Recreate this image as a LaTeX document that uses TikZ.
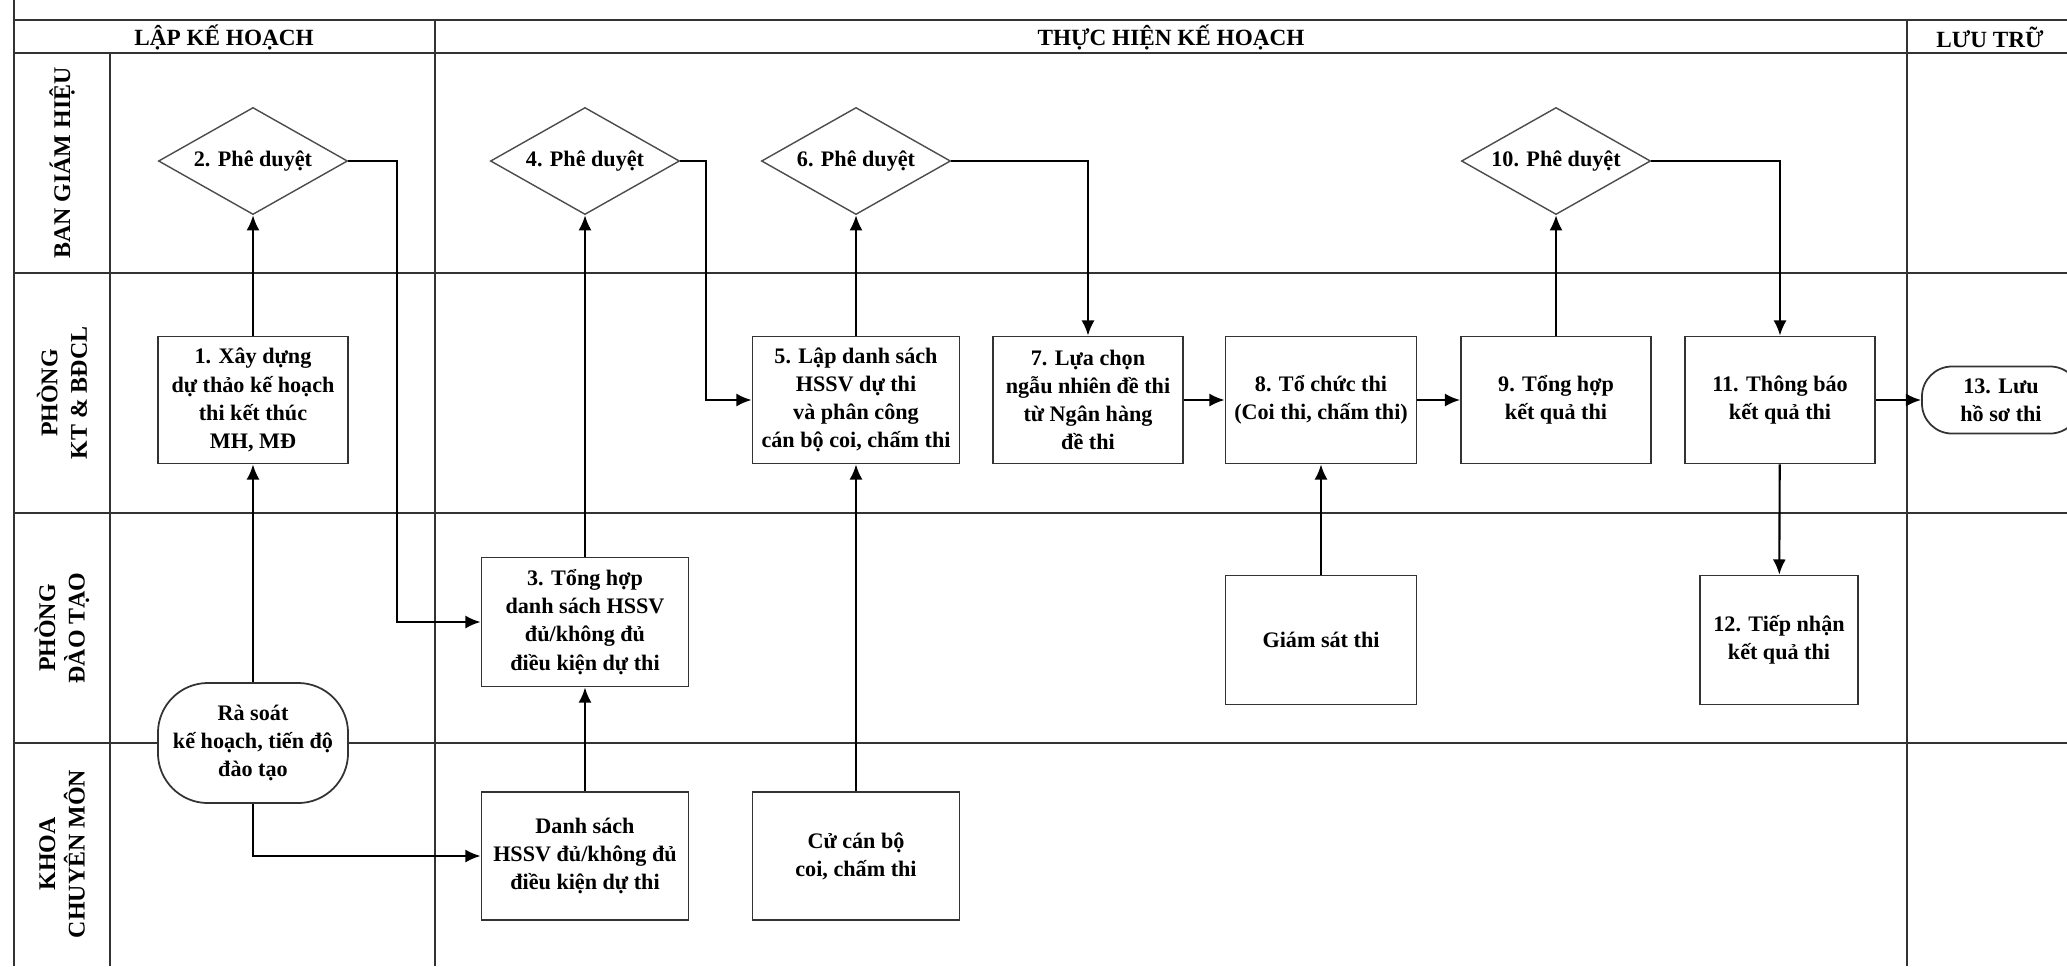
\documentclass[tikz,border=0pt]{standalone}
\usepackage{fontspec}
\setmainfont{Liberation Serif}
\usepackage{tikz}
\usetikzlibrary{shapes.geometric}
\usetikzlibrary{arrows.meta}
\newcommand{\boxfont}{\bfseries\fontsize{6.3}{8}\selectfont}
\tikzstyle{lane}=[draw=black!80,line width=0.75pt]
\tikzstyle{head}=[font=\bfseries\fontsize{6.6}{8}\selectfont,inner sep=0pt]
\tikzstyle{lanelabel}=[rotate=90,align=center,inner sep=0pt,font=\bfseries\fontsize{6.8}{8.4}\selectfont]
\tikzstyle{process}=[draw=black!80,fill=white,line width=0.5pt,align=center,inner sep=1pt,minimum width=1.90cm,minimum height=1.27cm,font=\boxfont]
\tikzstyle{decision}=[diamond,draw=black!70,fill=white,line width=0.4pt,inner sep=0pt,shape aspect=1.77,minimum width=1.89cm,minimum height=1.07cm,font=\boxfont]
\tikzstyle{terminal}=[draw=black!80,fill=white,line width=0.5pt,align=center,inner sep=1pt,font=\boxfont]
\tikzstyle{flow}=[draw=black,line width=0.6pt,-{Latex[length=4.3pt,width=3.7pt]}]

\begin{document}
\begin{tikzpicture}[x=0.01cm,y=-0.01cm]
  \useasboundingbox (0,0) rectangle (2067,966);
  % swimlane frame
  \draw[lane] (14,0) -- (14,966);
  \foreach \y in {20,53,273,513,743}
    \draw[lane] (14,\y) -- (2067,\y);
  \draw[lane] (110,53) -- (110,966);
  \foreach \x in {435,1907}
    \draw[lane] (\x,20) -- (\x,966);

  \node[head] (h1) at (224,37) {LẬP KẾ HOẠCH};
  \node[head] (h2) at (1171,37) {THỰC HIỆN KẾ HOẠCH};
  \node[head] (h3) at (1990,37) {LƯU TRỮ};

  \foreach \y/\t [count=\i] in {163/{BAN GIÁM HIỆU},393/{PHÒNG\\KT \& BĐCL},628/{PHÒNG\\ĐÀO TẠO},854/{KHOA\\CHUYÊN MÔN}}
    \node[lanelabel] (lane\i) at (62,\y) {\t};

  % steps
  \node[process] (b1) at (253,400) {1. Xây dựng\\dự thảo kế hoạch\\thi kết thúc\\MH, MĐ};
  \node[decision] (d2) at (253,161) {2. Phê duyệt};
  \node[terminal,rounded corners=0.5cm,minimum width=1.90cm,minimum height=1.20cm] (rs) at (253,743) {Rà soát\\kế hoạch, tiến độ\\đào tạo};
  \node[process,minimum width=2.07cm,minimum height=1.29cm] (b3) at (585,622) {3. Tổng hợp\\danh sách HSSV\\đủ/không đủ\\điều kiện dự thi};
  \node[process,minimum width=2.07cm,minimum height=1.28cm] (ds) at (585,856) {Danh sách\\HSSV đủ/không đủ\\điều kiện dự thi};
  \node[decision] (d4) at (585,161) {4. Phê duyệt};
  \node[process,minimum width=2.07cm] (b5) at (856,400) {5. Lập danh sách\\HSSV dự thi\\và phân công\\cán bộ coi, chấm thi};
  \node[decision] (d6) at (856,161) {6. Phê duyệt};
  \node[process,minimum width=2.07cm,minimum height=1.28cm] (cb) at (856,856) {Cử cán bộ\\coi, chấm thi};
  \node[process] (b7) at (1088,400) {7. Lựa chọn\\ngẫu nhiên đề thi\\từ Ngân hàng\\đề thi};
  \node[process,minimum width=1.91cm] (b8) at (1321,400) {8. Tổ chức thi\\(Coi thi, chấm thi)};
  \node[process,minimum width=1.91cm,minimum height=1.29cm] (gs) at (1321,640) {Giám sát thi};
  \node[process] (b9) at (1556,400) {9. Tổng hợp\\kết quả thi};
  \node[decision] (d10) at (1556,161) {10. Phê duyệt};
  \node[process] (b11) at (1780,400) {11. Thông báo\\kết quả thi};
  \node[process,minimum width=1.58cm,minimum height=1.29cm] (b12) at (1779,640) {12. Tiếp nhận\\kết quả thi};
  \node[terminal,rounded corners=0.3cm,minimum width=1.58cm,minimum height=0.67cm] (t13) at (2001,400) {13. Lưu\\hồ sơ thi};

  \coordinate (k2) at (397,161);
  \coordinate (k4) at (706,161);

  % connectors
  \draw[flow] (rs) -- (b1);
  \draw[flow] (b1) -- (d2);
  \draw[flow] (d2.east) -- (k2) |- (b3.west);
  \draw[flow] (rs.south) |- (ds.west);
  \draw[flow] (ds) -- (b3);
  \draw[flow] (b3) -- (d4);
  \draw[flow] (d4.east) -- (k4) |- (b5.west);
  \draw[flow] (cb) -- (b5);
  \draw[flow] (b5) -- (d6);
  \draw[flow] (d6.east) -| (b7.north);
  \draw[flow] (b7) -- (b8);
  \draw[flow] (gs) -- (b8);
  \draw[flow] (b8) -- (b9);
  \draw[flow] (b9) -- (d10);
  \draw[flow] (d10.east) -| (b11.north);
  \draw[flow] (b11) -- (b12);
  \draw[flow] (b11) -- (t13);
\end{tikzpicture}
\end{document}
